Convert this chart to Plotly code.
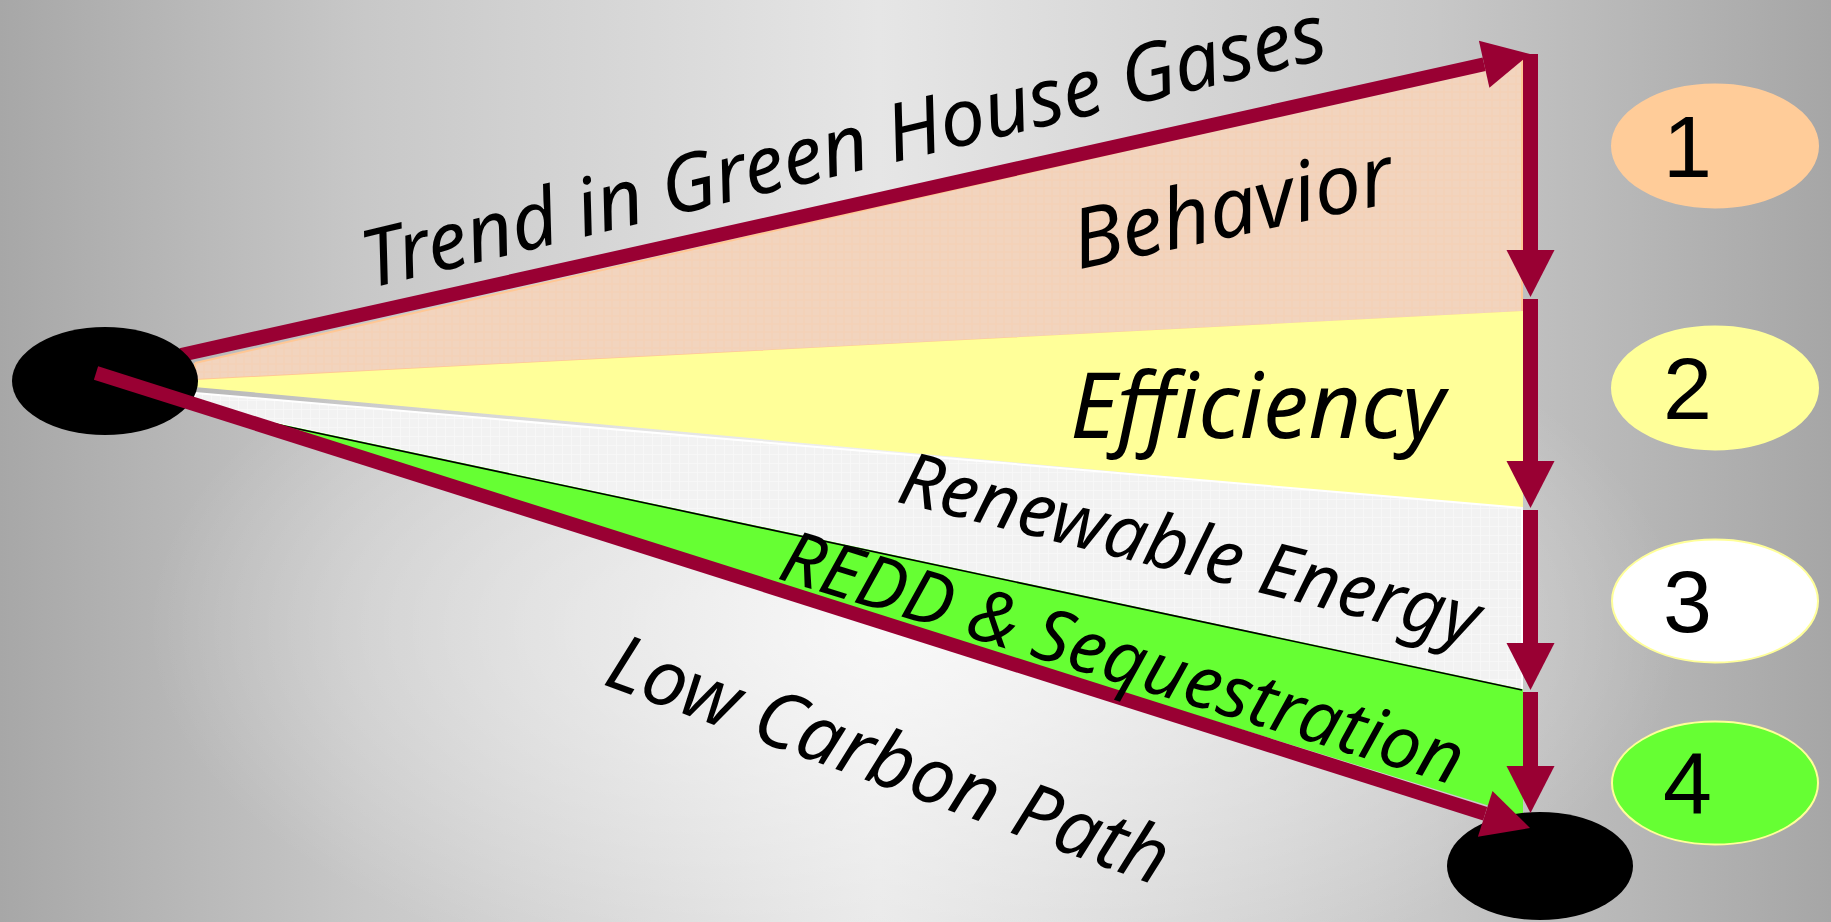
import base64
import numpy as np
import plotly.graph_objects as go

W, H = 1831, 922

# bands of the wedge, top to bottom
band_names = ["Behavior", "Efficiency", "Renewable Energy", "REDD & Sequestration"]
band_numbers = ["1", "2", "3", "4"]
band_colors = ["#F2D4BE", "#FFFF99", "#F2F2F2", "#66FF33"]
band_left_x = [195, 195, 195, 275]
band_left_top = [363, 381, 393, 424]
band_left_bottom = [380, 386, 406, 430]
band_right_x = 1522
band_right_top = [60, 312, 508, 690]
band_right_bottom = [312, 508, 690, 815]

# vertical arrows on the right edge
arrow_x = 1530.5
arrow_starts = [54, 299, 510, 692]
arrow_tips = [297, 508, 690, 813]

# long arrows
trend_start, trend_tip = (181, 355), (1530, 54)
low_start, low_tip = (96, 373), (1530, 828)

# black end points
dot_centers = [(105, 381), (1540, 866)]
dot_size = (186, 108)

# numbered ovals
oval_x = 1715
oval_y = [146, 388, 601, 783]
oval_size = (206, 123)
oval_colors = ["#FFCC99", "#FFFF99", "#FFFFFF", "#66FF33"]
oval_lines = ["#FFCC99", "#FFFF99", "#FFFF99", "#FFFF99"]
number_x = 1687

# labels: text, x, y, angle, size
label_text = ["Trend in Green House Gases", "Behavior", "Efficiency",
              "Renewable Energy", "REDD & Sequestration", "Low Carbon Path"]
label_x = [842, 1232, 1259, 1193, 1123, 890]
label_y = [142, 203, 403, 546, 654, 757]
label_angle = [-13.5, -12, 0, 14, 17, 20]
label_size = [80, 83, 91, 74, 73, 78]

ARROW = "#990033"

bg_svg = f"""<svg xmlns='http://www.w3.org/2000/svg' width='{W}' height='{H}'>
<defs>
<linearGradient id='h' x1='0' x2='1' y1='0' y2='0'>
<stop offset='0' stop-color='#a7a7a7'/><stop offset='0.2' stop-color='#c8c8c8'/>
<stop offset='0.48' stop-color='#e6e6e6'/><stop offset='0.78' stop-color='#c8c8c8'/>
<stop offset='1' stop-color='#a6a6a6'/></linearGradient>
<radialGradient id='r' cx='0.5' cy='0.68' r='0.42'>
<stop offset='0' stop-color='#ffffff' stop-opacity='0.75'/>
<stop offset='1' stop-color='#ffffff' stop-opacity='0'/></radialGradient>
</defs>
<rect width='{W}' height='{H}' fill='url(#h)'/>
<rect width='{W}' height='{H}' fill='url(#r)'/>
</svg>"""
bg_uri = "data:image/svg+xml;base64," + base64.b64encode(bg_svg.encode()).decode()


def head(tip, tail, length=47, half=24):
    tip = np.array(tip, float)
    tail = np.array(tail, float)
    u = (tip - tail) / np.linalg.norm(tip - tail)
    n = np.array([-u[1], u[0]])
    base = tip - u * length
    pts = [base + n * half, tip, base - n * half]
    path = "M " + " L ".join(f"{p[0]:.1f},{p[1]:.1f}" for p in pts) + " Z"
    return path, base


fig = go.Figure()

# wedge bands
patterns = [dict(shape="+", fgcolor="#FAC79B", bgcolor="#F2D4BE", size=8, solidity=0.12),
            None,
            dict(shape="+", fgcolor="#FFFFFF", bgcolor="#F2F2F2", size=9, solidity=0.15),
            None]
edge_colors = ["#FFC794", "#FFFF99", "#FFFFFF", "#66FF33"]
for i in range(4):
    xs = [band_left_x[i], band_right_x, band_right_x, band_left_x[i], band_left_x[i]]
    ys = [band_left_top[i], band_right_top[i], band_right_bottom[i], band_left_bottom[i], band_left_top[i]]
    kw = dict(fillpattern=patterns[i]) if patterns[i] else {}
    fig.add_trace(go.Scatter(
        x=xs, y=ys, mode="lines", fill="toself", fillcolor=band_colors[i],
        line=dict(color=edge_colors[i], width=2), hoverinfo="skip", showlegend=False, **kw
    ))

# thin black edge between renewable and green bands
fig.add_trace(go.Scatter(
    x=[band_left_x[3], band_right_x], y=[band_left_top[3], band_right_top[3]],
    mode="lines", line=dict(color="black", width=1.6), hoverinfo="skip", showlegend=False
))

shapes = []


def arrow(start, tip, width=14):
    path, base = head(tip, start)
    shapes.append(dict(type="line", x0=start[0], y0=start[1], x1=base[0], y1=base[1],
                       line=dict(color=ARROW, width=width), layer="above"))
    shapes.append(dict(type="path", path=path, fillcolor=ARROW, line=dict(width=0), layer="above"))


arrow(trend_start, trend_tip)

for cx, cy in dot_centers:
    shapes.append(dict(type="circle", x0=cx - dot_size[0] / 2, x1=cx + dot_size[0] / 2,
                       y0=cy - dot_size[1] / 2, y1=cy + dot_size[1] / 2,
                       fillcolor="black", line=dict(width=0), layer="above"))

arrow(low_start, low_tip)

for y0, y1 in zip(arrow_starts, arrow_tips):
    arrow((arrow_x, y0), (arrow_x, y1), width=15)

for y, c, lc in zip(oval_y, oval_colors, oval_lines):
    shapes.append(dict(type="circle", x0=oval_x - oval_size[0] / 2, x1=oval_x + oval_size[0] / 2,
                       y0=y - oval_size[1] / 2, y1=y + oval_size[1] / 2,
                       fillcolor=c, line=dict(color=lc, width=2), layer="above"))

annotations = []
for t, x, y, a, s in zip(label_text, label_x, label_y, label_angle, label_size):
    annotations.append(dict(text=t, x=x, y=y, textangle=a, showarrow=False,
                            xanchor="center", yanchor="middle",
                            font=dict(family="Noto Sans", size=s, color="black", style="italic")))
for n, y in zip(band_numbers, oval_y):
    annotations.append(dict(text=n, x=number_x, y=y, showarrow=False,
                            xanchor="center", yanchor="middle",
                            font=dict(family="Liberation Sans", size=88, color="black")))

fig.update_layout(
    width=W, height=H,
    margin=dict(l=0, r=0, t=0, b=0),
    paper_bgcolor="#c8c8c8",
    plot_bgcolor="rgba(0,0,0,0)",
    xaxis=dict(range=[0, W], visible=False, fixedrange=True),
    yaxis=dict(range=[H, 0], visible=False, fixedrange=True),
    shapes=shapes,
    annotations=annotations,
    images=[dict(source=bg_uri, xref="paper", yref="paper", x=0, y=1, sizex=1, sizey=1,
                 sizing="stretch", xanchor="left", yanchor="top", layer="below")],
    showlegend=False,
)

fig.write_html("out.html", config=dict(displayModeBar=False),
               post_script="document.body.style.margin='0';document.body.style.overflow='hidden';")
